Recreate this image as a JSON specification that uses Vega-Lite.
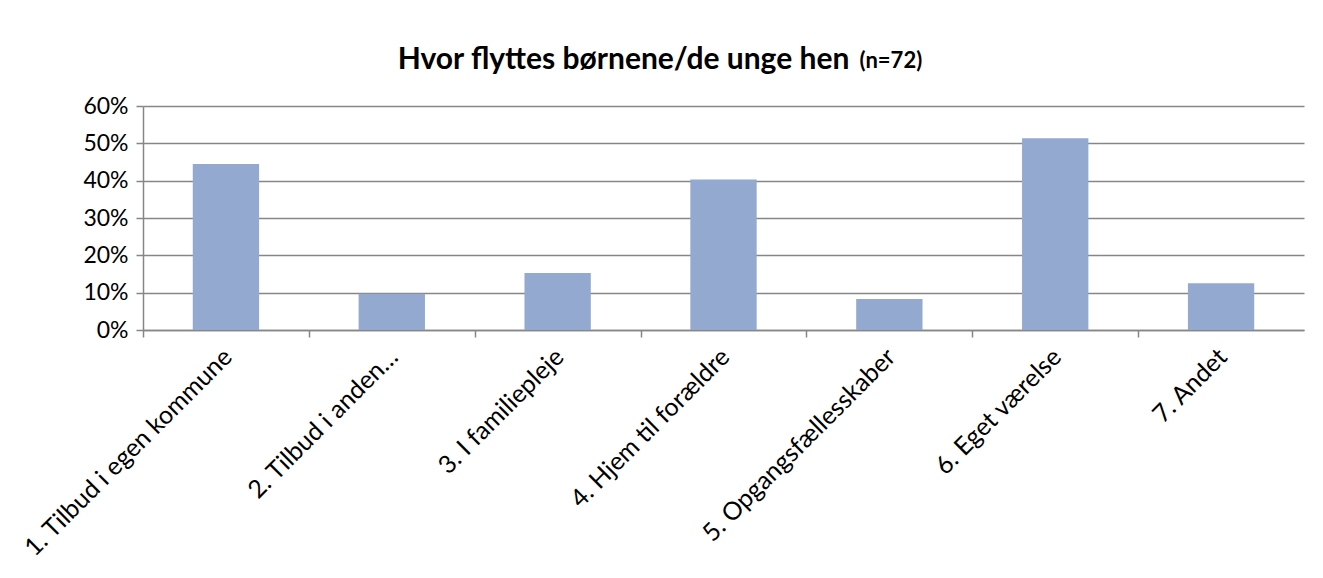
{
  "$schema": "https://vega.github.io/schema/vega-lite/v6.json",
  "width": 1161,
  "height": 224,
  "autosize": "none",
  "padding": {"left": 143, "top": 106, "right": 19, "bottom": 248},
  "background": "white",
  "config": {
    "view": {"stroke": null},
    "font": "Lato"
  },
  "title": {
    "text": "Hvor flyttes børnene/de unge hen",
    "anchor": "middle",
    "dx": -100,
    "offset": -50,
    "baseline": "alphabetic",
    "font": "Lato",
    "fontSize": 30,
    "fontWeight": "bold",
    "color": "#000000"
  },
  "data": {
    "values": [
      {"kategori": "1. Tilbud i egen kommune", "andel": 0.4444},
      {"kategori": "2. Tilbud i anden…", "andel": 0.0972},
      {"kategori": "3. I familiepleje", "andel": 0.1528},
      {"kategori": "4. Hjem til forældre", "andel": 0.4028},
      {"kategori": "5. Opgangsfællesskaber", "andel": 0.0833},
      {"kategori": "6. Eget værelse", "andel": 0.5139},
      {"kategori": "7. Andet", "andel": 0.125}
    ]
  },
  "layer": [
    {
      "mark": {"type": "bar", "color": "#94A9D0"},
      "encoding": {
        "x": {
          "field": "kategori",
          "type": "nominal",
          "sort": null,
          "scale": {"paddingInner": 0.6, "paddingOuter": 0.3},
          "axis": {
            "title": null,
            "labelAngle": -45,
            "labelAlign": "right",
            "labelBaseline": "top",
            "labelFont": "Lato",
            "labelFontSize": 25,
            "labelColor": "#000000",
            "labelPadding": 7,
            "labelLimit": 0,
            "tickOffset": -83,
            "labelOffset": 76,
            "tickSize": 7,
            "tickColor": "#868686",
            "tickWidth": 1.5,
            "domainColor": "#868686",
            "domainWidth": 1.5,
            "grid": false
          }
        },
        "y": {
          "field": "andel",
          "type": "quantitative",
          "scale": {"domain": [0, 0.6], "nice": false},
          "axis": {
            "title": null,
            "values": [0, 0.1, 0.2, 0.3, 0.4, 0.5, 0.6],
            "format": ".0%",
            "labelFont": "Lato",
            "labelFontSize": 23,
            "labelColor": "#000000",
            "labelPadding": 8,
            "tickSize": 7,
            "tickColor": "#868686",
            "tickWidth": 1.5,
            "domainColor": "#868686",
            "domainWidth": 1.5,
            "grid": true,
            "gridColor": "#868686",
            "gridWidth": 1.5
          }
        }
      }
    },
    {
      "mark": {"type": "rule", "opacity": 0},
      "encoding": {
        "x": {
          "field": "kategori",
          "type": "nominal",
          "sort": null,
          "axis": {
            "orient": "top",
            "title": "(n=72)",
            "titleX": 716,
            "titleY": -39,
            "titleAlign": "left",
            "titleBaseline": "alphabetic",
            "titleAngle": 0,
            "titleFont": "Lato",
            "titleFontSize": 22,
            "titleFontWeight": "bold",
            "titleColor": "#000000",
            "labels": false,
            "ticks": false,
            "domain": false,
            "grid": false
          }
        }
      }
    }
  ],
  "resolve": {"axis": {"x": "independent"}}
}
